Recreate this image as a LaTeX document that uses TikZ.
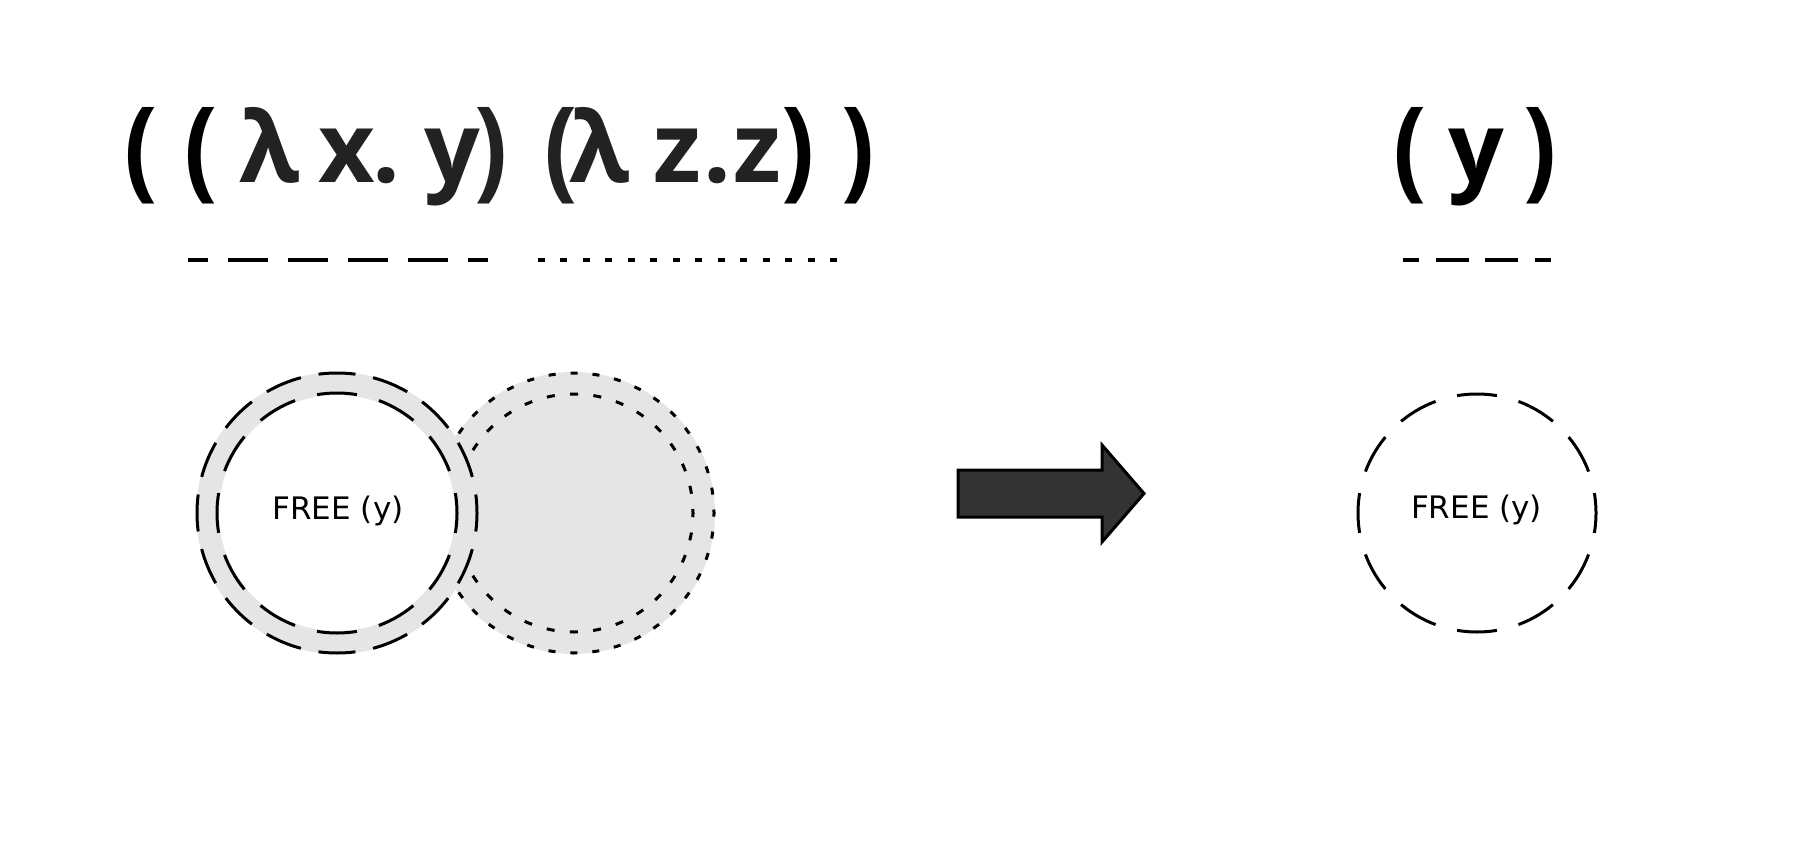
\documentclass[tikz,border=0pt]{standalone}
\usepackage{fontspec}
\setmainfont{Open Sans}
\newfontfamily\freefont{DejaVu Sans}
\usetikzlibrary{calc}
\definecolor{tokgray}{HTML}{222222}
\definecolor{ringgray}{HTML}{E5E5E5}
\definecolor{arrowfill}{HTML}{333333}
\newcommand{\tallpar}[1]{\scalebox{1}[1.13]{#1}}
\tikzset{
  tok/.style={anchor=base, inner sep=0pt, text=#1,
    font=\fontsize{98}{98}\selectfont\bfseries},
  tok/.default=tokgray,
  disk/.style={circle, inner sep=0pt, minimum size=#1, fill=ringgray},
  hole/.style={circle, inner sep=0pt, minimum size=#1, fill=white},
  longdash/.style={circle, inner sep=0pt, minimum size=#1, draw=black, line width=3pt},
  freetext/.style={font=\freefont\fontsize{31}{31}\selectfont},
  uline/.style={line width=4pt, draw=black},
  bigarrow/.style={draw=black, fill=arrowfill, line width=3pt, line join=miter}
}
\begin{document}
\begin{tikzpicture}[x=1pt, y=-1pt]
\useasboundingbox (0,0) rectangle (1809,861);

% ---- title left ----
\node[tok=black] (p1) at (141.5,186.5) {\tallpar{(}};
\node[tok=black] (p2) at (201.5,186.5) {\tallpar{(}};
\node[tok] (l1) at (270,183) {λ};
\node[tok] (x1) at (346.5,183) {x};
\node[tok] (d1) at (386.5,183) {.};
\node[tok] (y1) at (452.5,183) {y};
\node[tok] (p3) at (491.5,186.5) {\tallpar{)}};
\node[tok] (p4) at (561,186.5) {\tallpar{(}};
\node[tok] (l2) at (600,183) {λ};
\node[tok] (z1) at (677.5,183) {z};
\node[tok] (d2) at (717.5,183) {.};
\node[tok] (z2) at (757.5,183) {z};
\node[tok=black] (p5) at (798.5,186.5) {\tallpar{)}};
\node[tok=black] (p6) at (858.5,186.5) {\tallpar{)}};

% ---- title right ----
\node[tok=black] (q1) at (1410,186.5) {\tallpar{(}};
\node[tok=black] (q2) at (1476,183) {y};
\node[tok=black] (q3) at (1540,186.5) {\tallpar{)}};

% ---- underlines ----
\coordinate (ua) at (188,260);
\coordinate (ub) at (488,260);
\coordinate (uc) at (538,260);
\coordinate (ud) at (838,260);
\coordinate (ue) at (1402.5,260);
\coordinate (uf) at (1551,260);
\draw[uline, dash pattern=on 40pt off 20pt, dash phase=20pt] (ua) -- (ub);
\draw[uline, dash pattern=on 7pt off 15.46pt] (uc) -- (ud);
\draw[uline, dash pattern=on 33pt off 16.5pt, dash phase=16.5pt] (ue) -- (uf);

% ---- right (argument) circle ----
\node[disk=282pt] (Rdisk) at (574,513) {};
\node[longdash=280pt, dash pattern=on 7pt off 14.99pt, dash phase=3.5pt] (Rout) at (Rdisk.center) {};
\node[longdash=238pt, dash pattern=on 8pt off 15.36pt, dash phase=4pt] (Rin) at (Rdisk.center) {};

% ---- left (function) circle ----
\node[disk=282pt] (Ldisk) at (337,513) {};
\node[hole=236pt] (Lhole) at (Ldisk.center) {};
\node[longdash=280pt, dash pattern=on 37pt off 17.98pt, dash phase=18.5pt] (Lout) at (Ldisk.center) {};
\node[longdash=240pt, dash pattern=on 40pt off 22.83pt, dash phase=20pt] (Lin) at (Ldisk.center) {};
\node[freetext, anchor=base] (Ltxt) at (338,519) {FREE (y)};

% ---- arrow ----
\coordinate (a1) at (958,470);
\coordinate (a2) at (1102,470);
\coordinate (a3) at (1102,445);
\coordinate (a4) at (1144,493.5);
\coordinate (a5) at (1102,542);
\coordinate (a6) at (1102,517);
\coordinate (a7) at (958,517);
\draw[bigarrow] (a1) -- (a2) -- (a3) -- (a4) -- (a5) -- (a6) -- (a7) -- cycle;

% ---- result circle ----
\node[longdash=238pt, dash pattern=on 40pt off 22.31pt, dash phase=20pt] (Res) at (1477,513) {};
\node[freetext, anchor=base] (Rtxt) at (1476.5,518.5) {FREE (y)};
\end{tikzpicture}
\end{document}
